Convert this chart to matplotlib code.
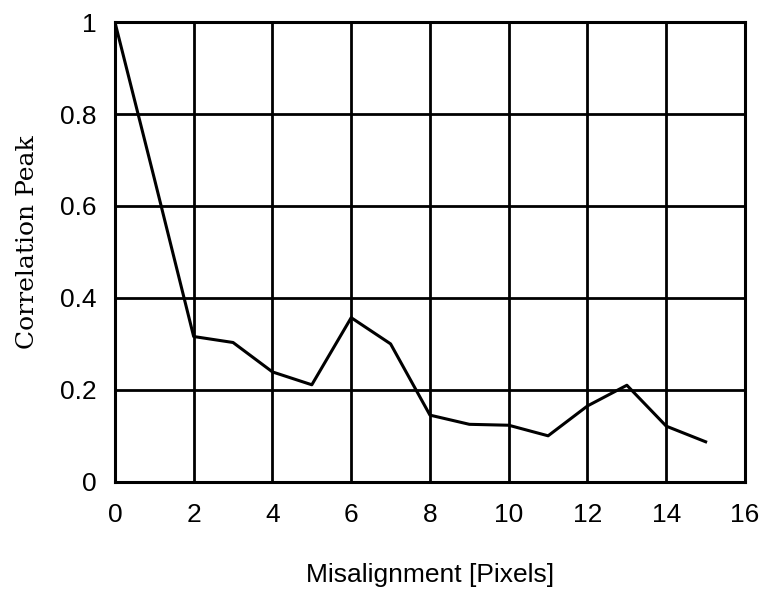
import matplotlib
matplotlib.use('Agg')
import matplotlib.pyplot as plt

# misalignment in pixels vs correlation peak
misalignment = [0, 1, 2, 3, 4, 5, 6, 7, 8, 9, 10, 11, 12, 13, 14, 15]
corr_peak = [1.0, 0.66, 0.316, 0.303, 0.239, 0.211, 0.357, 0.30,
             0.145, 0.125, 0.123, 0.10, 0.165, 0.21, 0.121, 0.087]

x_ticks = [0, 2, 4, 6, 8, 10, 12, 14, 16]
y_ticks = [0, 0.2, 0.4, 0.6, 0.8, 1]
y_tick_labels = ['0', '0.2', '0.4', '0.6', '0.8', '1']

fig = plt.figure(figsize=(7.61, 5.97), dpi=100)
ax = fig.add_axes([0.151, 0.193, 0.828, 0.770])

ax.plot(misalignment, corr_peak, color='black', lw=2.2)

ax.set_xlim(0, 16)
ax.set_ylim(0, 1)
ax.set_xticks(x_ticks)
ax.set_yticks(y_ticks)
ax.set_yticklabels(y_tick_labels)
ax.grid(True, color='black', lw=2)
ax.tick_params(length=0, labelsize=19)
ax.tick_params(axis='x', pad=15)
ax.tick_params(axis='y', pad=13)
for lbl in ax.get_xticklabels() + ax.get_yticklabels():
    lbl.set_family('Liberation Sans')
for s in ax.spines.values():
    s.set_linewidth(2.2)

ax.set_xlabel('Misalignment [Pixels]', fontsize=19, family='Liberation Sans', labelpad=26)
ax.set_ylabel('Correlation Peak', fontsize=18, family='DejaVu Serif')
ax.yaxis.set_label_coords(-0.121, 0.522)

fig.savefig('out.png', dpi=100)
